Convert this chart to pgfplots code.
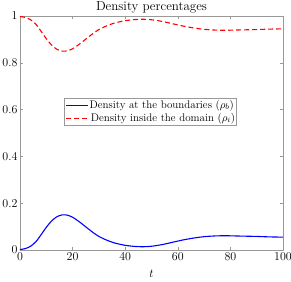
\documentclass[border=0pt]{standalone}
\usepackage{pgfplots}
\pgfplotsset{compat=1.18}
\definecolor{mblue}{rgb}{0,0,1}
\definecolor{mred}{rgb}{1,0,0}
\begin{document}
\begin{tikzpicture}
\begin{axis}[
  scale only axis,
  width=263pt, height=234pt,
  xmin=0, xmax=100, ymin=0, ymax=1,
  xtick={0,20,...,100},
  ytick={0,0.2,0.4,0.6,0.8,1},
  yticklabels={0,0.2,0.4,0.6,0.8,1},
  tick align=inside,
  axis line style={gray!80},
  tick style={gray!80, line width=0.4pt},
  major tick length=3pt,
  tick label style={font=\fontsize{12}{14}\selectfont},
  xticklabel style={yshift=1pt},
  yticklabel style={xshift=1pt},
  xlabel={$t$},
  xlabel style={font=\fontsize{12}{14}\selectfont, yshift=-3pt},
  title={Density percentages},
  title style={font=\fontsize{13}{15}\selectfont, yshift=-7pt},
]
\addplot[draw=mblue, line width=1.1pt, smooth] coordinates {
(0,0.002)(2,0.006)(4,0.016)(6,0.035)(8,0.065)(10,0.097)(12,0.124)(14,0.142)(16,0.150)(18,0.149)(20,0.140)(22,0.125)(24,0.108)(26,0.090)(28,0.073)(30,0.058)(33,0.042)(36,0.030)(40,0.020)(44,0.015)(47,0.014)(50,0.016)(54,0.023)(58,0.033)(62,0.043)(66,0.051)(70,0.057)(74,0.060)(78,0.061)(82,0.060)(86,0.059)(90,0.058)(95,0.056)(100,0.055)};
\addplot[draw=mred, line width=1.1pt, dash pattern=on 5pt off 3pt, smooth] coordinates {
(0,0.998)(2,0.994)(4,0.984)(6,0.965)(8,0.935)(10,0.903)(12,0.876)(14,0.858)(16,0.850)(18,0.851)(20,0.860)(22,0.875)(24,0.892)(26,0.910)(28,0.927)(30,0.942)(33,0.958)(36,0.970)(40,0.980)(44,0.985)(47,0.986)(50,0.984)(54,0.977)(58,0.967)(62,0.957)(66,0.949)(70,0.943)(74,0.940)(78,0.939)(82,0.940)(86,0.941)(90,0.942)(95,0.944)(100,0.945)};
\node[draw=gray!80, fill=white, align=left, inner sep=1.5pt, anchor=center, text=black,
      font=\fontsize{11}{13}\selectfont] at (rel axis cs:0.496,0.59)
  {{\color{mblue}\rule[0.5ex]{22pt}{1.3pt}}\,Density at the boundaries ($\rho_b$)\\
   \tikz[baseline=-0.6ex]\draw[mred, line width=1.1pt, dash pattern=on 5pt off 3pt] (0pt,0pt)--(22pt,0pt);\,Density inside the domain ($\rho_i$)};
\end{axis}
\pgfresetboundingbox
\path[use as bounding box] (-20pt,-31pt) rectangle (271pt,250pt);
\end{tikzpicture}
\end{document}
